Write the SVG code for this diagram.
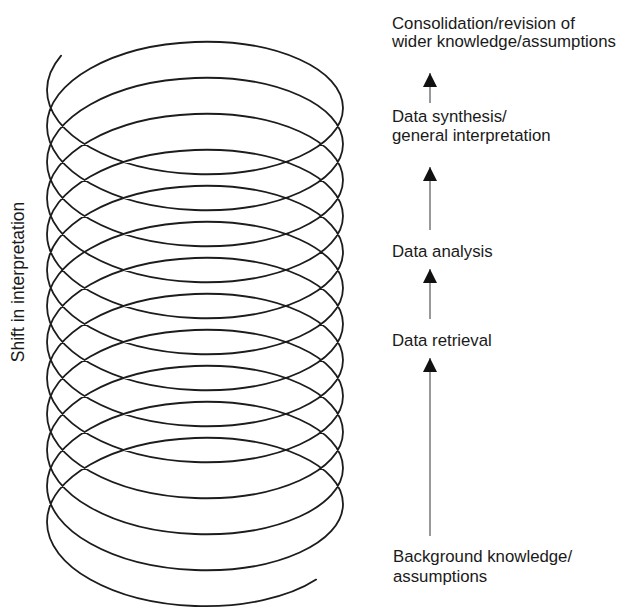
<svg xmlns="http://www.w3.org/2000/svg" width="618" height="611" viewBox="0 0 618 611">
<style>
.lbl{font-family:"Liberation Sans",Arial,sans-serif;font-size:16.8px;fill:#1a1a1a}
.side{font-size:17.5px}
.helix{fill:none;stroke:#1c1c1c;stroke-width:1.8;stroke-linecap:round;stroke-linejoin:round}
.conn{stroke:#555;stroke-width:1.2;fill:none;marker-end:url(#head)}
</style>
<defs>
<marker id="head" viewBox="0 0 14 14" markerWidth="14" markerHeight="14" refX="14" refY="7" orient="auto" markerUnits="userSpaceOnUse">
<path d="M0,0 L14,7 L0,14 Z" fill="#111"/>
</marker>
</defs>
<rect width="618" height="611" fill="#fff"/>
<g id="helix">
<path class="helix" d="M61.1,55.6 C51.9,66.4 47,78.16 47,90
c0,44.42 66.26,81 148,84 c81.74,3 148,-27.58 148,-66 c0,-38.42 -66.26,-69 -148,-66 c-81.74,3 -148,39.58 -148,84
c0,44.42 66.26,81 148,84 c81.74,3 148,-27.58 148,-66 c0,-38.42 -66.26,-69 -148,-66 c-81.74,3 -148,39.58 -148,84
c0,44.42 66.26,81 148,84 c81.74,3 148,-27.58 148,-66 c0,-38.42 -66.26,-69 -148,-66 c-81.74,3 -148,39.58 -148,84
c0,44.42 66.26,81 148,84 c81.74,3 148,-27.58 148,-66 c0,-38.42 -66.26,-69 -148,-66 c-81.74,3 -148,39.58 -148,84
c0,44.42 66.26,81 148,84 c81.74,3 148,-27.58 148,-66 c0,-38.42 -66.26,-69 -148,-66 c-81.74,3 -148,39.58 -148,84
c0,44.42 66.26,81 148,84 c81.74,3 148,-27.58 148,-66 c0,-38.42 -66.26,-69 -148,-66 c-81.74,3 -148,39.58 -148,84
c0,44.42 66.26,81 148,84 c81.74,3 148,-27.58 148,-66 c0,-38.42 -66.26,-69 -148,-66 c-81.74,3 -148,39.58 -148,84
c0,44.42 66.26,81 148,84 c81.74,3 148,-27.58 148,-66 c0,-38.42 -66.26,-69 -148,-66 c-81.74,3 -148,39.58 -148,84
c0,44.42 66.26,81 148,84 c81.74,3 148,-27.58 148,-66 c0,-38.42 -66.26,-69 -148,-66 c-81.74,3 -148,39.58 -148,84
c0,44.42 66.26,81 148,84 c81.74,3 148,-27.58 148,-66 c0,-38.42 -66.26,-69 -148,-66 c-81.74,3 -148,39.58 -148,84
c0,44.42 66.26,81 148,84 c81.74,3 148,-27.58 148,-66 c0,-38.42 -66.26,-69 -148,-66 c-81.74,3 -148,39.58 -148,84
c0,44.42 66.26,81 148,84 c81.74,3 148,-27.58 148,-66 c0,-38.42 -66.26,-69 -148,-66 c-81.74,3 -148,39.58 -148,84
c0,44.42 66.26,81 148,84 c47.36,1.83 93.9,-8.6 121.1,-26.4"/>
</g>
<g id="shift-label">
<text class="lbl side" transform="translate(24,282) rotate(-90)" text-anchor="middle">Shift in interpretation</text>
</g>
<g id="consolidation">
<text class="lbl" x="392" y="28.5">Consolidation/revision of</text>
<text class="lbl" x="392" y="47">wider knowledge/assumptions</text>
</g>
<g id="synthesis">
<text class="lbl" x="392" y="122">Data synthesis/</text>
<text class="lbl" x="392" y="141">general interpretation</text>
</g>
<g id="analysis">
<text class="lbl" x="392" y="257">Data analysis</text>
</g>
<g id="retrieval">
<text class="lbl" x="392" y="346">Data retrieval</text>
</g>
<g id="background">
<text class="lbl" x="393" y="562">Background knowledge/</text>
<text class="lbl" x="393" y="582">assumptions</text>
</g>
<g id="connectors">
<line class="conn" x1="430" y1="103" x2="430" y2="73"/>
<line class="conn" x1="430" y1="230" x2="430" y2="167"/>
<line class="conn" x1="430" y1="319" x2="430" y2="269"/>
<line class="conn" x1="430" y1="536" x2="430" y2="358"/>
</g>
</svg>
